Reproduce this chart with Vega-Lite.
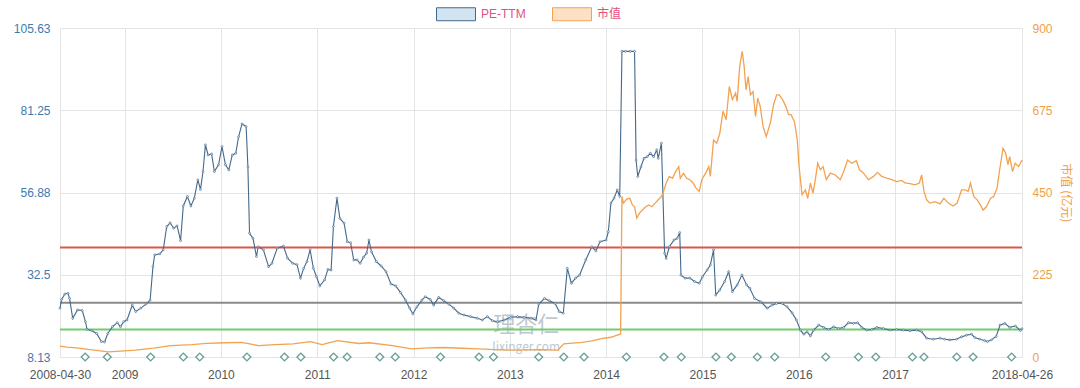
{
  "$schema": "https://vega.github.io/schema/vega-lite/v6.json",
  "width": 962,
  "height": 329,
  "autosize": {"type": "none"},
  "padding": {"left": 60, "top": 28, "right": 58, "bottom": 31},
  "background": "white",
  "config": {
    "view": {"stroke": null},
    "font": "Liberation Sans",
    "axis": {"gridColor": "#e4e4e4", "gridWidth": 1, "domain": false, "ticks": false, "labelFont": "Liberation Sans", "labelFontSize": 12}
  },
  "datasets": {
    "pe": [
      {"year": 2008.329, "pe": 22.6}, {"year": 2008.346, "pe": 25.2}, {"year": 2008.379, "pe": 26.8}, {"year": 2008.412, "pe": 27.0}, {"year": 2008.428, "pe": 25.5},
      {"year": 2008.461, "pe": 19.6}, {"year": 2008.511, "pe": 22.1}, {"year": 2008.560, "pe": 21.9}, {"year": 2008.593, "pe": 18.6}, {"year": 2008.610, "pe": 16.3},
      {"year": 2008.660, "pe": 15.9}, {"year": 2008.709, "pe": 15.1}, {"year": 2008.759, "pe": 12.7}, {"year": 2008.792, "pe": 12.6}, {"year": 2008.825, "pe": 15.1},
      {"year": 2008.874, "pe": 17.1}, {"year": 2008.924, "pe": 18.3}, {"year": 2008.957, "pe": 17.1}, {"year": 2008.990, "pe": 18.6}, {"year": 2009.025, "pe": 19.1},
      {"year": 2009.079, "pe": 23.5}, {"year": 2009.115, "pe": 21.6}, {"year": 2009.168, "pe": 22.6}, {"year": 2009.222, "pe": 23.8}, {"year": 2009.265, "pe": 25.0},
      {"year": 2009.294, "pe": 34.9}, {"year": 2009.312, "pe": 38.4}, {"year": 2009.366, "pe": 38.7}, {"year": 2009.401, "pe": 39.9}, {"year": 2009.437, "pe": 46.8},
      {"year": 2009.473, "pe": 47.9}, {"year": 2009.509, "pe": 46.3}, {"year": 2009.545, "pe": 47.0}, {"year": 2009.581, "pe": 42.6}, {"year": 2009.609, "pe": 52.9},
      {"year": 2009.652, "pe": 55.7}, {"year": 2009.688, "pe": 52.9}, {"year": 2009.724, "pe": 55.2}, {"year": 2009.760, "pe": 60.6}, {"year": 2009.788, "pe": 57.8},
      {"year": 2009.814, "pe": 63.1}, {"year": 2009.839, "pe": 71.0}, {"year": 2009.867, "pe": 68.0}, {"year": 2009.903, "pe": 68.3}, {"year": 2009.932, "pe": 63.1},
      {"year": 2009.975, "pe": 65.1}, {"year": 2010.011, "pe": 70.5}, {"year": 2010.047, "pe": 65.1}, {"year": 2010.082, "pe": 63.6}, {"year": 2010.118, "pe": 68.0},
      {"year": 2010.154, "pe": 68.5}, {"year": 2010.183, "pe": 73.4}, {"year": 2010.219, "pe": 77.2}, {"year": 2010.262, "pe": 76.4}, {"year": 2010.280, "pe": 64.5},
      {"year": 2010.297, "pe": 44.8}, {"year": 2010.333, "pe": 43.3}, {"year": 2010.369, "pe": 37.9}, {"year": 2010.387, "pe": 40.8}, {"year": 2010.441, "pe": 39.9},
      {"year": 2010.495, "pe": 34.9}, {"year": 2010.530, "pe": 35.9}, {"year": 2010.584, "pe": 40.4}, {"year": 2010.649, "pe": 41.0}, {"year": 2010.692, "pe": 37.4},
      {"year": 2010.745, "pe": 35.9}, {"year": 2010.790, "pe": 35.5}, {"year": 2010.826, "pe": 31.5}, {"year": 2010.859, "pe": 34.4}, {"year": 2010.893, "pe": 36.4},
      {"year": 2010.926, "pe": 39.9}, {"year": 2010.960, "pe": 34.4}, {"year": 2010.993, "pe": 31.9}, {"year": 2011.027, "pe": 29.2}, {"year": 2011.077, "pe": 31.0},
      {"year": 2011.111, "pe": 34.1}, {"year": 2011.144, "pe": 33.9}, {"year": 2011.168, "pe": 46.8}, {"year": 2011.205, "pe": 55.2}, {"year": 2011.235, "pe": 49.2},
      {"year": 2011.279, "pe": 47.8}, {"year": 2011.312, "pe": 42.3}, {"year": 2011.346, "pe": 42.0}, {"year": 2011.379, "pe": 36.9}, {"year": 2011.413, "pe": 36.9},
      {"year": 2011.446, "pe": 35.9}, {"year": 2011.480, "pe": 37.7}, {"year": 2011.513, "pe": 38.9}, {"year": 2011.537, "pe": 42.8}, {"year": 2011.564, "pe": 39.3},
      {"year": 2011.614, "pe": 36.4}, {"year": 2011.664, "pe": 35.1}, {"year": 2011.715, "pe": 33.4}, {"year": 2011.765, "pe": 29.8}, {"year": 2011.815, "pe": 29.2},
      {"year": 2011.866, "pe": 27.2}, {"year": 2011.916, "pe": 25.0}, {"year": 2011.960, "pe": 22.6}, {"year": 2011.993, "pe": 20.9}, {"year": 2012.035, "pe": 23.0},
      {"year": 2012.087, "pe": 25.0}, {"year": 2012.122, "pe": 26.0}, {"year": 2012.174, "pe": 25.2}, {"year": 2012.209, "pe": 23.5}, {"year": 2012.261, "pe": 25.8},
      {"year": 2012.314, "pe": 24.8}, {"year": 2012.366, "pe": 23.8}, {"year": 2012.418, "pe": 22.6}, {"year": 2012.470, "pe": 21.1}, {"year": 2012.523, "pe": 20.6},
      {"year": 2012.592, "pe": 20.1}, {"year": 2012.662, "pe": 19.6}, {"year": 2012.714, "pe": 19.1}, {"year": 2012.767, "pe": 20.1}, {"year": 2012.819, "pe": 18.9},
      {"year": 2012.871, "pe": 18.6}, {"year": 2012.941, "pe": 19.1}, {"year": 2013.010, "pe": 19.9}, {"year": 2013.080, "pe": 20.1}, {"year": 2013.150, "pe": 19.9},
      {"year": 2013.220, "pe": 19.6}, {"year": 2013.272, "pe": 19.1}, {"year": 2013.300, "pe": 23.8}, {"year": 2013.360, "pe": 25.5}, {"year": 2013.410, "pe": 24.8},
      {"year": 2013.470, "pe": 24.0}, {"year": 2013.512, "pe": 21.6}, {"year": 2013.555, "pe": 21.1}, {"year": 2013.597, "pe": 34.4}, {"year": 2013.639, "pe": 30.0},
      {"year": 2013.682, "pe": 31.5}, {"year": 2013.724, "pe": 32.4}, {"year": 2013.788, "pe": 36.9}, {"year": 2013.851, "pe": 40.8}, {"year": 2013.894, "pe": 39.6},
      {"year": 2013.936, "pe": 42.3}, {"year": 2014.000, "pe": 42.8}, {"year": 2014.023, "pe": 45.3}, {"year": 2014.049, "pe": 53.7}, {"year": 2014.082, "pe": 55.2},
      {"year": 2014.115, "pe": 57.6}, {"year": 2014.141, "pe": 55.7}, {"year": 2014.164, "pe": 98.7}, {"year": 2014.200, "pe": 98.7}, {"year": 2014.250, "pe": 98.7},
      {"year": 2014.295, "pe": 98.7}, {"year": 2014.311, "pe": 66.5}, {"year": 2014.328, "pe": 61.6}, {"year": 2014.361, "pe": 64.5}, {"year": 2014.393, "pe": 67.0},
      {"year": 2014.426, "pe": 67.5}, {"year": 2014.459, "pe": 68.5}, {"year": 2014.492, "pe": 67.5}, {"year": 2014.525, "pe": 69.5}, {"year": 2014.541, "pe": 67.0},
      {"year": 2014.574, "pe": 71.5}, {"year": 2014.607, "pe": 38.9}, {"year": 2014.623, "pe": 37.4}, {"year": 2014.656, "pe": 40.8}, {"year": 2014.705, "pe": 42.8},
      {"year": 2014.738, "pe": 43.3}, {"year": 2014.764, "pe": 45.0}, {"year": 2014.777, "pe": 32.4}, {"year": 2014.820, "pe": 31.5}, {"year": 2014.869, "pe": 31.5},
      {"year": 2014.918, "pe": 30.5}, {"year": 2014.967, "pe": 30.0}, {"year": 2015.000, "pe": 31.9}, {"year": 2015.049, "pe": 33.9}, {"year": 2015.082, "pe": 35.4},
      {"year": 2015.115, "pe": 39.9}, {"year": 2015.138, "pe": 26.5}, {"year": 2015.180, "pe": 28.0}, {"year": 2015.230, "pe": 30.5}, {"year": 2015.272, "pe": 33.4},
      {"year": 2015.311, "pe": 27.5}, {"year": 2015.361, "pe": 29.5}, {"year": 2015.410, "pe": 32.4}, {"year": 2015.459, "pe": 29.5}, {"year": 2015.492, "pe": 28.5},
      {"year": 2015.541, "pe": 25.5}, {"year": 2015.607, "pe": 24.5}, {"year": 2015.672, "pe": 22.6}, {"year": 2015.721, "pe": 23.5}, {"year": 2015.770, "pe": 24.0},
      {"year": 2015.828, "pe": 24.0}, {"year": 2015.879, "pe": 23.0}, {"year": 2015.931, "pe": 21.2}, {"year": 2015.976, "pe": 19.1}, {"year": 2016.017, "pe": 16.1},
      {"year": 2016.052, "pe": 14.9}, {"year": 2016.086, "pe": 15.6}, {"year": 2016.121, "pe": 14.4}, {"year": 2016.155, "pe": 16.1}, {"year": 2016.207, "pe": 17.6},
      {"year": 2016.259, "pe": 16.9}, {"year": 2016.310, "pe": 16.3}, {"year": 2016.362, "pe": 17.1}, {"year": 2016.414, "pe": 16.6}, {"year": 2016.466, "pe": 16.9},
      {"year": 2016.517, "pe": 18.3}, {"year": 2016.569, "pe": 18.1}, {"year": 2016.610, "pe": 18.3}, {"year": 2016.655, "pe": 16.9}, {"year": 2016.707, "pe": 16.1},
      {"year": 2016.759, "pe": 16.3}, {"year": 2016.810, "pe": 16.9}, {"year": 2016.879, "pe": 16.6}, {"year": 2016.948, "pe": 16.1}, {"year": 2017.017, "pe": 16.3},
      {"year": 2017.086, "pe": 16.1}, {"year": 2017.155, "pe": 15.9}, {"year": 2017.224, "pe": 16.1}, {"year": 2017.276, "pe": 15.6}, {"year": 2017.328, "pe": 13.7},
      {"year": 2017.397, "pe": 13.4}, {"year": 2017.466, "pe": 13.7}, {"year": 2017.517, "pe": 13.4}, {"year": 2017.569, "pe": 13.2}, {"year": 2017.638, "pe": 13.4},
      {"year": 2017.690, "pe": 14.1}, {"year": 2017.741, "pe": 14.6}, {"year": 2017.793, "pe": 14.9}, {"year": 2017.828, "pe": 13.9}, {"year": 2017.879, "pe": 13.4},
      {"year": 2017.931, "pe": 13.0}, {"year": 2017.960, "pe": 12.7}, {"year": 2018.000, "pe": 13.2}, {"year": 2018.050, "pe": 14.2}, {"year": 2018.090, "pe": 17.6},
      {"year": 2018.140, "pe": 18.1}, {"year": 2018.190, "pe": 16.9}, {"year": 2018.250, "pe": 17.3}, {"year": 2018.300, "pe": 16.0}, {"year": 2018.318, "pe": 16.5}
    ],
    "mv": [
      {"year": 2008.329, "mv": 30}, {"year": 2008.40, "mv": 27}, {"year": 2008.50, "mv": 25}, {"year": 2008.62, "mv": 21}, {"year": 2008.83, "mv": 14},
      {"year": 2009.00, "mv": 17}, {"year": 2009.11, "mv": 19}, {"year": 2009.30, "mv": 24}, {"year": 2009.48, "mv": 31}, {"year": 2009.70, "mv": 34},
      {"year": 2009.85, "mv": 37}, {"year": 2010.05, "mv": 39}, {"year": 2010.21, "mv": 40}, {"year": 2010.30, "mv": 36}, {"year": 2010.39, "mv": 31},
      {"year": 2010.56, "mv": 34}, {"year": 2010.75, "mv": 36}, {"year": 2010.93, "mv": 42}, {"year": 2011.05, "mv": 34}, {"year": 2011.21, "mv": 45},
      {"year": 2011.43, "mv": 37}, {"year": 2011.54, "mv": 39}, {"year": 2011.78, "mv": 31}, {"year": 2011.98, "mv": 22}, {"year": 2012.15, "mv": 25},
      {"year": 2012.31, "mv": 26}, {"year": 2012.50, "mv": 24}, {"year": 2012.67, "mv": 22}, {"year": 2012.85, "mv": 20}, {"year": 2013.00, "mv": 19},
      {"year": 2013.30, "mv": 20}, {"year": 2013.50, "mv": 19}, {"year": 2013.56, "mv": 36}, {"year": 2013.65, "mv": 38}, {"year": 2013.75, "mv": 40},
      {"year": 2013.85, "mv": 44}, {"year": 2013.95, "mv": 50}, {"year": 2014.05, "mv": 54}, {"year": 2014.15, "mv": 63}, {"year": 2014.164, "mv": 439},
      {"year": 2014.18, "mv": 421}, {"year": 2014.213, "mv": 432}, {"year": 2014.246, "mv": 434}, {"year": 2014.272, "mv": 416}, {"year": 2014.295, "mv": 411},
      {"year": 2014.318, "mv": 380}, {"year": 2014.344, "mv": 393}, {"year": 2014.377, "mv": 402}, {"year": 2014.41, "mv": 411}, {"year": 2014.443, "mv": 416},
      {"year": 2014.475, "mv": 411}, {"year": 2014.508, "mv": 421}, {"year": 2014.541, "mv": 430}, {"year": 2014.574, "mv": 439}, {"year": 2014.59, "mv": 448},
      {"year": 2014.623, "mv": 476}, {"year": 2014.656, "mv": 494}, {"year": 2014.689, "mv": 489}, {"year": 2014.721, "mv": 507}, {"year": 2014.754, "mv": 521},
      {"year": 2014.77, "mv": 489}, {"year": 2014.803, "mv": 503}, {"year": 2014.836, "mv": 489}, {"year": 2014.869, "mv": 485}, {"year": 2014.902, "mv": 476},
      {"year": 2014.934, "mv": 462}, {"year": 2014.967, "mv": 453}, {"year": 2014.993, "mv": 485}, {"year": 2015.033, "mv": 503}, {"year": 2015.066, "mv": 521},
      {"year": 2015.082, "mv": 494}, {"year": 2015.115, "mv": 594}, {"year": 2015.148, "mv": 585}, {"year": 2015.18, "mv": 612}, {"year": 2015.213, "mv": 672},
      {"year": 2015.246, "mv": 649}, {"year": 2015.279, "mv": 740}, {"year": 2015.311, "mv": 704}, {"year": 2015.344, "mv": 722}, {"year": 2015.36, "mv": 699},
      {"year": 2015.387, "mv": 795}, {"year": 2015.413, "mv": 836}, {"year": 2015.433, "mv": 795}, {"year": 2015.452, "mv": 731}, {"year": 2015.475, "mv": 767},
      {"year": 2015.498, "mv": 717}, {"year": 2015.525, "mv": 726}, {"year": 2015.551, "mv": 658}, {"year": 2015.574, "mv": 708}, {"year": 2015.60, "mv": 685},
      {"year": 2015.63, "mv": 630}, {"year": 2015.662, "mv": 603}, {"year": 2015.705, "mv": 640}, {"year": 2015.738, "mv": 690}, {"year": 2015.77, "mv": 717},
      {"year": 2015.797, "mv": 717}, {"year": 2015.832, "mv": 704}, {"year": 2015.867, "mv": 685}, {"year": 2015.895, "mv": 663}, {"year": 2015.92, "mv": 663},
      {"year": 2015.955, "mv": 644}, {"year": 2015.985, "mv": 594}, {"year": 2016.00, "mv": 530}, {"year": 2016.034, "mv": 444}, {"year": 2016.069, "mv": 457},
      {"year": 2016.093, "mv": 434}, {"year": 2016.121, "mv": 476}, {"year": 2016.148, "mv": 448}, {"year": 2016.172, "mv": 485}, {"year": 2016.197, "mv": 530},
      {"year": 2016.224, "mv": 512}, {"year": 2016.252, "mv": 521}, {"year": 2016.286, "mv": 485}, {"year": 2016.328, "mv": 503}, {"year": 2016.379, "mv": 498},
      {"year": 2016.431, "mv": 485}, {"year": 2016.466, "mv": 507}, {"year": 2016.507, "mv": 539}, {"year": 2016.552, "mv": 530}, {"year": 2016.597, "mv": 537},
      {"year": 2016.631, "mv": 512}, {"year": 2016.672, "mv": 503}, {"year": 2016.724, "mv": 485}, {"year": 2016.776, "mv": 494}, {"year": 2016.817, "mv": 505},
      {"year": 2016.862, "mv": 494}, {"year": 2016.914, "mv": 489}, {"year": 2016.966, "mv": 485}, {"year": 2017.017, "mv": 480}, {"year": 2017.069, "mv": 483},
      {"year": 2017.103, "mv": 476}, {"year": 2017.155, "mv": 474}, {"year": 2017.207, "mv": 471}, {"year": 2017.252, "mv": 476}, {"year": 2017.276, "mv": 498},
      {"year": 2017.30, "mv": 453}, {"year": 2017.328, "mv": 430}, {"year": 2017.362, "mv": 421}, {"year": 2017.414, "mv": 425}, {"year": 2017.466, "mv": 419},
      {"year": 2017.507, "mv": 434}, {"year": 2017.552, "mv": 421}, {"year": 2017.603, "mv": 413}, {"year": 2017.645, "mv": 421}, {"year": 2017.69, "mv": 457},
      {"year": 2017.724, "mv": 457}, {"year": 2017.759, "mv": 453}, {"year": 2017.783, "mv": 476}, {"year": 2017.817, "mv": 439}, {"year": 2017.852, "mv": 430},
      {"year": 2017.886, "mv": 416}, {"year": 2017.914, "mv": 402}, {"year": 2017.948, "mv": 411}, {"year": 2017.99, "mv": 434}, {"year": 2018.024, "mv": 439},
      {"year": 2018.059, "mv": 462}, {"year": 2018.086, "mv": 512}, {"year": 2018.121, "mv": 571}, {"year": 2018.148, "mv": 558}, {"year": 2018.172, "mv": 526},
      {"year": 2018.19, "mv": 548}, {"year": 2018.22, "mv": 507}, {"year": 2018.247, "mv": 530}, {"year": 2018.283, "mv": 521}, {"year": 2018.318, "mv": 539}
    ],
    "events": [
      {"year": 2008.59}, {"year": 2008.82}, {"year": 2009.27}, {"year": 2009.61}, {"year": 2009.78}, {"year": 2010.27}, {"year": 2010.66}, {"year": 2010.83},
      {"year": 2011.17}, {"year": 2011.31}, {"year": 2011.65}, {"year": 2011.81}, {"year": 2012.28}, {"year": 2012.68}, {"year": 2012.83}, {"year": 2013.30},
      {"year": 2013.56}, {"year": 2013.77}, {"year": 2014.21}, {"year": 2014.60}, {"year": 2014.78}, {"year": 2015.14}, {"year": 2015.30}, {"year": 2015.57},
      {"year": 2015.75}, {"year": 2016.28}, {"year": 2016.62}, {"year": 2016.80}, {"year": 2017.18}, {"year": 2017.30}, {"year": 2017.64}, {"year": 2017.81},
      {"year": 2018.21}
    ],
    "bands": [
      {"band": "high", "pe": 40.6},
      {"band": "median", "pe": 24.2},
      {"band": "low", "pe": 16.3}
    ],
    "marks": [
      {"text": "理杏仁", "year": 2013.17, "pe": 17.6, "size": "big"},
      {"text": "lixinger.com", "year": 2013.17, "pe": 11.2, "size": "small"}
    ]
  },
  "layer": [
    {
      "layer": [
        {
          "data": {"name": "marks"},
          "mark": {"type": "text", "color": "#aab6c0", "opacity": 0.75, "font": "Noto Sans CJK SC"},
          "encoding": {
            "x": {"field": "year", "type": "quantitative"},
            "y": {"field": "pe", "type": "quantitative"},
            "text": {"field": "text"},
            "size": {"field": "size", "type": "nominal", "scale": {"domain": ["big", "small"], "range": [22, 12]}, "legend": null}
          }
        },
        {
          "data": {"name": "bands"},
          "mark": {"type": "rule", "strokeWidth": 2},
          "encoding": {
            "y": {"field": "pe", "type": "quantitative"},
            "stroke": {"field": "band", "type": "nominal", "scale": {"domain": ["high", "median", "low"], "range": ["#d9574a", "#8a8a8a", "#74cc6e"]}, "legend": null}
          }
        },
        {
          "data": {"name": "events"},
          "mark": {"type": "point", "shape": "diamond", "size": 60, "filled": false, "fill": "white", "fillOpacity": 1, "stroke": "#6a9f98", "strokeWidth": 1.4, "opacity": 1},
          "encoding": {
            "x": {"field": "year", "type": "quantitative"},
            "y": {"datum": 8.13}
          }
        },
        {
          "data": {"name": "pe"},
          "mark": {"type": "line", "strokeWidth": 1.1},
          "encoding": {
            "x": {
              "field": "year", "type": "quantitative",
              "scale": {"domain": [2008.329, 2018.318], "nice": false, "zero": false},
              "axis": {
                "title": null,
                "values": [2008.329, 2009, 2010, 2011, 2012, 2013, 2014, 2015, 2016, 2017, 2018.318],
                "labelExpr": "datum.value < 2008.5 ? '2008-04-30' : (datum.value > 2018.2 ? '2018-04-26' : format(datum.value, 'd'))",
                "labelColor": "#555555",
                "labelPadding": 12,
                "labelOverlap": false,
                "labelFlush": false,
                "grid": true
              }
            },
            "y": {
              "field": "pe", "type": "quantitative",
              "scale": {"domain": [8.13, 105.63], "nice": false, "zero": false},
              "axis": {
                "title": null,
                "values": [8.13, 32.5, 56.88, 81.25, 105.63],
                "format": ".2~f",
                "labelColor": "#3d7ab0",
                "labelPadding": 10,
                "grid": true
              }
            },
            "color": {
              "datum": "PE-TTM",
              "scale": {"domain": ["PE-TTM", "市值"], "range": ["#44698b", "#f2a250"]},
              "legend": {
                "orient": "none",
                "legendX": 376,
                "legendY": -34,
                "direction": "horizontal",
                "title": null,
                "symbolType": "M-1,-0.333H1V0.333H-1Z",
                "symbolSize": 1521,
                "symbolStrokeWidth": 1,
                "labelColor": "#e4507f",
                "labelFontSize": 12,
                "labelFont": "Liberation Sans",
                "labelOffset": 5,
                "columnPadding": 24,
                "encode": {
                  "symbols": {
                    "update": {
                      "fill": {"signal": "datum.value === 'PE-TTM' ? '#d2e4f0' : '#fde0c6'"},
                      "stroke": {"signal": "datum.value === 'PE-TTM' ? '#4f7391' : '#f0a35e'"},
                      "opacity": {"value": 1}
                    }
                  },
                  "labels": {
                    "update": {"font": {"signal": "datum.value === 'PE-TTM' ? 'Liberation Sans' : 'Noto Sans CJK SC'"}}
                  }
                }
              }
            }
          }
        },
        {
          "data": {"name": "pe"},
          "mark": {"type": "point", "filled": true, "size": 4, "fill": "#dce9f3", "stroke": "#44698b", "strokeWidth": 0.6, "opacity": 1},
          "encoding": {
            "x": {"field": "year", "type": "quantitative"},
            "y": {"field": "pe", "type": "quantitative"}
          }
        }
      ]
    },
    {
      "data": {"name": "mv"},
      "mark": {"type": "line", "strokeWidth": 1.3},
      "encoding": {
        "x": {"field": "year", "type": "quantitative"},
        "y": {
          "field": "mv", "type": "quantitative",
          "scale": {"domain": [0, 900], "nice": false},
          "axis": {
            "orient": "right",
            "values": [0, 225, 450, 675, 900],
            "grid": false,
            "labelColor": "#f0a04b",
            "labelPadding": 10,
            "title": "市值 (亿元)",
            "titleColor": "#f0a04b",
            "titleFont": "Noto Sans CJK SC",
            "titleFontSize": 12,
            "titleFontWeight": "normal",
            "titleAngle": 90,
            "titlePadding": 6
          }
        },
        "color": {"datum": "市值"}
      }
    }
  ],
  "resolve": {"scale": {"y": "independent"}}
}
